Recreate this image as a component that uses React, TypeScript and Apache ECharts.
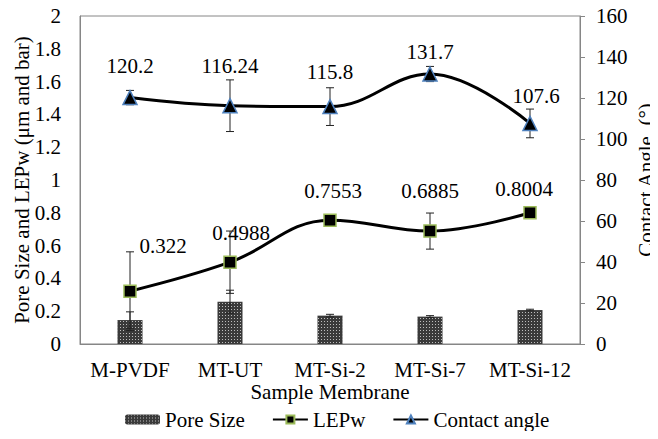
import React, { useEffect, useRef } from "react";
import * as echarts from "echarts";

const categories = ["M-PVDF", "MT-UT", "MT-Si-2", "MT-Si-7", "MT-Si-12"];
const poreSize = [0.146, 0.258, 0.173, 0.167, 0.207];
const poreSizeErr = [0.05, 0.07, 0.008, 0.006, 0.005];
const lepw = [0.322, 0.4988, 0.7553, 0.6885, 0.8004];
const lepwErr = [0.24, 0.19, 0.02, 0.11, 0.02];
const contactAngle = [120.2, 116.24, 115.8, 131.7, 107.6];
const contactAngleErr = [3.5, 12.6, 9.2, 3.7, 7];

// label placement (px offsets from the point)
const lepwLabelOffsets = [[33, -45], [11, -29], [3, -29], [0, -40], [-6, -24]];
const contactLabelOffsets = [[0, -32], [0, -40], [0, -35], [0, -22], [6, -27]];

const FONT = "Liberation Serif";
const FS = 21;

function errorSeries(values: number[], errs: number[], yAxisIndex: number) {
  return {
    type: "custom",
    yAxisIndex,
    z: 1,
    silent: true,
    data: values.map((v, i) => [i, v, errs[i]]),
    renderItem: (params: any, api: any) => {
      const i = api.value(0);
      const v = api.value(1);
      const e = api.value(2);
      const hi = api.coord([i, v + e]);
      const lo = api.coord([i, v - e]);
      const cap = 4;
      const style = { stroke: "#222", lineWidth: 1 };
      return {
        type: "group",
        children: [
          { type: "line", shape: { x1: hi[0], y1: hi[1], x2: lo[0], y2: lo[1] }, style },
          { type: "line", shape: { x1: hi[0] - cap, y1: hi[1], x2: hi[0] + cap, y2: hi[1] }, style },
          { type: "line", shape: { x1: lo[0] - cap, y1: lo[1], x2: lo[0] + cap, y2: lo[1] }, style },
        ],
      };
    },
  };
}

const txt = (extra: any = {}) => ({ fontFamily: FONT, fontSize: FS, color: "#000", ...extra });

export default function App() {
  const ref = useRef<HTMLDivElement>(null);
  useEffect(() => {
    if (!ref.current) return;
    const chart = echarts.init(ref.current, null, { renderer: "svg" });
    const axisLine = { show: true, lineStyle: { color: "#868686", width: 1 } };
    chart.setOption({
      animation: false,
      textStyle: { fontFamily: FONT },
      grid: {
        left: 80,
        right: 78,
        top: 16,
        bottom: 95,
        show: true,
        borderColor: "#868686",
        borderWidth: 1,
        containLabel: false,
        outerBoundsMode: "none",
      },
      legend: {
        bottom: 4,
        left: 120,
        itemGap: 27,
        itemWidth: 35,
        itemHeight: 10,
        textStyle: txt(),
        data: ["Pore Size", "LEPw", "Contact angle"],
      },
      xAxis: {
        type: "category",
        data: categories,
        axisLine,
        axisTick: { show: false },
        axisLabel: txt({ margin: 15, interval: 0 }),
        name: "Sample Membrane",
        nameLocation: "middle",
        nameGap: 37,
        nameMoveOverlap: false,
        nameTextStyle: txt(),
      },
      yAxis: [
        {
          type: "value",
          min: 0,
          max: 2,
          interval: 0.2,
          axisLine,
          axisTick: { show: false },
          splitLine: { show: false },
          axisLabel: txt({ margin: 19 }),
          name: "Pore Size and LEPw (μm and bar)",
          nameLocation: "middle",
          nameGap: 48,
          nameMoveOverlap: false,
          nameTextStyle: txt(),
        },
        {
          type: "value",
          min: 0,
          max: 160,
          interval: 20,
          position: "right",
          axisLine,
          axisTick: { show: true, length: 5, lineStyle: { color: "#868686" } },
          splitLine: { show: false },
          axisLabel: txt({ margin: 16 }),
          name: "Contact Angle  (°)",
          nameLocation: "middle",
          nameGap: 55,
          nameMoveOverlap: false,
          nameTextStyle: txt(),
        },
      ],
      series: [
        {
          name: "Pore Size",
          type: "bar",
          barWidth: 25,
          data: poreSize,
          z: 0,
          itemStyle: {
            color: "#3a3a3a",
            decal: {
              symbol: "rect",
              symbolSize: 1,
              dashArrayX: [1, 2],
              dashArrayY: [1, 2],
              color: "#bdbdbd",
              rotation: 0,
            },
          },
        },
        errorSeries(poreSize, poreSizeErr, 0),
        errorSeries(lepw, lepwErr, 0),
        errorSeries(contactAngle, contactAngleErr, 1),
        {
          name: "LEPw",
          type: "line",
          smooth: 0.4,
          z: 3,
          symbol: "rect",
          symbolSize: 12,
          lineStyle: { color: "#000", width: 3 },
          itemStyle: { color: "#000", borderColor: "#9bbb59", borderWidth: 1.5 },
          data: lepw.map((v, i) => ({
            value: v,
            label: txt({ show: true, position: "inside", offset: lepwLabelOffsets[i] }),
          })),
        },
        {
          name: "Contact angle",
          type: "line",
          yAxisIndex: 1,
          smooth: 0.4,
          z: 3,
          symbol: "triangle",
          symbolSize: 14,
          lineStyle: { color: "#000", width: 3 },
          itemStyle: { color: "#000", borderColor: "#4f81bd", borderWidth: 1.5 },
          data: contactAngle.map((v, i) => ({
            value: v,
            label: txt({ show: true, position: "inside", offset: contactLabelOffsets[i] }),
          })),
        },
      ],
    });
    return () => chart.dispose();
  }, []);
  return <div ref={ref} style={{ width: 658, height: 439, margin: -8 }} />;
}
